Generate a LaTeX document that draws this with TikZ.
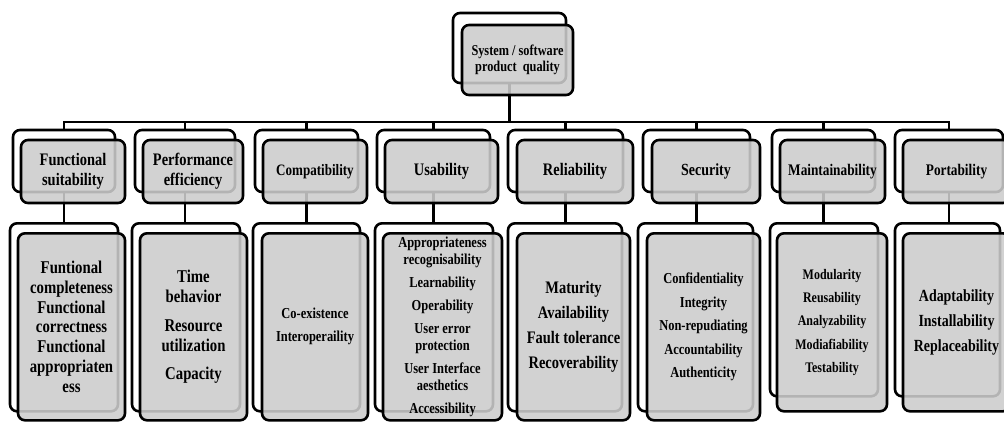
\documentclass[tikz,border=0pt]{standalone}
\usepackage{fontspec}
\setmainfont{Liberation Serif}[FakeStretch=0.82]
\usetikzlibrary{backgrounds}

\begin{document}
\begin{tikzpicture}[x=1pt, y=-1pt,
    back/.style={draw, line width=2.6pt, rounded corners=7pt, fill=white, inner sep=0pt},
    front/.style={draw, line width=2.6pt, rounded corners=7pt, fill=black!20, fill opacity=0.88,
                  text opacity=1, inner sep=0pt, align=center},
    txt/.style 2 args={font=\bfseries\fontsize{#1}{#2}\selectfont},
    wire/.style={line width=2.6pt, line cap=rect}]
  \useasboundingbox (0,0) rectangle (1004,421);

  \node[back, minimum width=113, minimum height=70] (sys-back) at (509.5,48) {};
  \node[front, txt={15}{16.5}, minimum width=111, minimum height=70] (sys) at (517.5,60)
    {System / software\\product\ \ quality};

  \foreach \n/\bx/\bw/\fx/\fw/\s/\t in {
      fs/64/102/73/104/17.6/{Functional\\suitability},
      pe/185/100/193/100/17.6/{Performance\\efficiency},
      co/306.5/103/315/104/15.9/Compatibility,
      us/433.5/113/441.5/113/17.6/Usability,
      re/565.5/115/575/116/17.6/Reliability,
      se/696.5/107/706/108/17/Security,
      ma/823.5/103/832.5/105/16.2/Maintainability,
      po/949/108/956.5/107/16.2/Portability}{
    \node[back, minimum width=\bw, minimum height=62] (\n-back) at (\bx,161) {};
    \node[front, txt={\s}{20}, minimum width=\fw, minimum height=63] (\n) at (\fx,171.5) {\t};
  }

  \node[back, anchor=north, minimum width=108, minimum height=188] (fs-list-back) at (64,222) {};
  \node[front, anchor=north, txt={18}{19.8}, minimum width=107, minimum height=187] (fs-list) at (71.5,232)
    {Funtional\\completeness\\Functional\\correctness\\Functional\\appropriaten\\ess};

  \node[back, anchor=north, minimum width=108, minimum height=188] (pe-list-back) at (186,222) {};
  \node[front, anchor=north, txt={18}{20}, minimum width=107, minimum height=187] (pe-list) at (193.5,232)
    {Time\\behavior\\[8.5pt]Resource\\utilization\\[8.5pt]Capacity};

  \node[back, anchor=north, minimum width=107, minimum height=188] (co-list-back) at (306.5,222) {};
  \node[front, anchor=north, txt={15.2}{23}, minimum width=106, minimum height=187] (co-list) at (315,232)
    {Co-existence\\Interoperaility};

  \node[back, anchor=north, minimum width=118, minimum height=188] (us-list-back) at (434,222) {};
  \node[front, anchor=north, txt={15.2}{17}, minimum width=119, minimum height=187] (us-list) at (442.5,232)
    {Appropriateness\\recognisability\\[6pt]Learnability\\[6pt]Operability\\[6pt]User error\\protection\\[6pt]User Interface\\aesthetics\\[6pt]Accessibility};

  \node[back, anchor=north, minimum width=114, minimum height=188] (re-list-back) at (565,222) {};
  \node[front, anchor=north, txt={17.6}{25}, minimum width=113, minimum height=187] (re-list) at (573.5,232)
    {Maturity\\Availability\\Fault tolerance\\Recoverability};

  \node[back, anchor=north, minimum width=115, minimum height=188] (se-list-back) at (695.5,222) {};
  \node[front, anchor=north, txt={15.2}{23.5}, minimum width=113, minimum height=187] (se-list) at (703.5,232)
    {Confidentiality\\Integrity\\Non-repudiating\\Accountability\\Authenticity};

  \node[back, anchor=north, minimum width=108, minimum height=173] (ma-list-back) at (824,222) {};
  \node[front, anchor=north, txt={14.6}{23.3}, minimum width=110, minimum height=178] (ma-list) at (832,232)
    {Modularity\\Reusability\\Analyzability\\Modiafiability\\Testability};

  \node[back, anchor=north, minimum width=105, minimum height=173] (po-list-back) at (947.5,222) {};
  \node[front, anchor=north, txt={17}{25}, minimum width=107, minimum height=178] (po-list) at (956.5,232)
    {Adaptability\\Installability\\Replaceability};

  \begin{scope}[on background layer]
    \coordinate (bus) at (508,122);
    \draw[wire] (sys-back) -- (sys-back |- bus);
    \draw[wire] (fs-back |- bus) -- (po-back |- bus);
    \foreach \n in {fs,pe,co,us,re,se,ma,po}
      \draw[wire] (\n-back |- bus) -- (\n-back |- \n-list-back.north);
  \end{scope}
\end{tikzpicture}
\end{document}
